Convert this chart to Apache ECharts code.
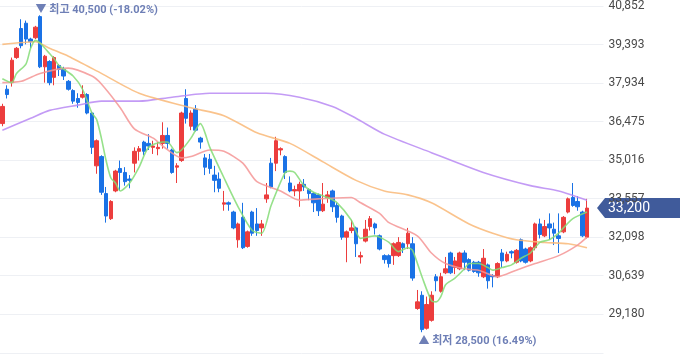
<!DOCTYPE html>
<html><head><meta charset="utf-8">
<script src="https://cdn.jsdelivr.net/npm/echarts@6/dist/echarts.min.js"></script>
<style>html,body{margin:0;padding:0;background:#fff}#c{width:680px;height:358px}</style>
</head><body><div id="c"></div>
<script>
const opens = [36400,37700,37950,38900,40000,40200,39600,39650,40450,38550,
38750,38150,38600,38450,38000,37650,37350,37400,37500,36800,
34800,35150,33750,32800,33850,34700,34550,34300,34900,35350,
35700,35650,35500,35450,35650,35950,35400,34750,35000,37350,
36300,36950,35850,35100,35050,34450,34300,33350,33400,33050,
32000,32850,31750,33050,32600,32450,33550,34900,34900,35400,
35150,34150,33850,33850,34100,33900,33750,33700,33100,33600,
33850,33300,32900,32100,32350,32450,31350,31950,32500,32600,
32150,31400,31400,31400,31400,31850,31850,31850,29400,29900,
28650,28950,30600,30050,30750,31500,30950,30900,31500,31250,
31150,31150,30600,31050,30650,30600,31500,31200,31550,31150,
32000,31650,31200,31700,32600,32150,32600,32400,32150,32300,
33050,33600,33450,33050,32100];
const closes = [37050,37500,38800,39250,39350,39600,39500,40050,38550,38950,
37950,38900,38450,38200,37700,37250,37200,37500,36800,35500,
35750,33800,32900,33450,34600,34550,34200,34250,35350,35450,
35350,35550,35550,35500,35950,35650,34550,34800,36800,36600,
36800,36150,35700,34750,34700,34250,33950,33400,33350,32450,
32600,31700,32300,32250,32350,32600,33700,34000,35750,35450,
34550,33850,33900,34100,34000,33750,33400,33100,33350,33700,
33250,32850,32100,32300,32450,31850,31400,32400,32800,32450,
31650,31250,31100,31850,31900,31700,32250,30550,29650,28600,
29550,29900,30450,30600,30900,30750,31200,31500,31150,30850,
30800,30750,31300,30450,30600,31100,31200,31450,31500,31600,
31200,31150,31700,32600,32200,32500,32450,32250,32050,32850,
33550,33300,33250,32150,33200];
const lows = [36300,37350,37800,38850,39250,39400,39250,39600,38500,37950,
37850,37850,38200,38050,37650,37150,37000,37350,36750,35250,
34500,33700,32650,32750,33800,33850,34050,33950,34550,35000,
35200,35400,35250,35200,35450,35450,34500,34150,34950,36400,
36150,36100,35450,34450,34500,33800,33800,33100,33100,32400,
31700,31650,31700,32150,32150,32150,33400,33950,34600,35200,
34300,33800,33650,33250,33850,33500,33050,32900,33050,33400,
33050,32650,32000,31150,32250,31350,31100,31900,32350,32200,
31600,31100,30950,31050,31350,31500,31650,30450,29350,28500,
28600,28900,30050,30000,30700,30700,30700,30850,30850,30800,
30750,30600,30550,30150,30200,30550,30950,31150,31300,31100,
31150,31100,31150,31600,32050,32100,32000,31800,31500,32250,
33000,33250,33100,32100,32050];
const highs = [37150,37850,38900,39300,40350,40300,39650,40100,40500,39000,
38800,38950,38650,38550,38050,37700,37550,37850,37550,36850,
35800,35200,34000,33500,34650,35000,34750,34450,35500,35550,
35750,36000,35750,35700,36450,36250,35450,34900,36850,37700,
36900,37100,35900,35250,35250,34800,34550,33850,33450,33100,
32650,33400,32350,33100,33200,32750,34150,35100,35900,35500,
35200,34400,34050,34200,34300,33950,33800,33750,34150,33850,
33900,33400,32950,32350,32750,32500,31550,32750,32900,32650,
32200,31450,31450,31900,32100,31900,32450,32100,30100,30050,
29850,30050,30700,30750,31350,31550,31350,31550,31600,31300,
31200,31200,31650,31100,30700,31150,31650,31550,31600,31650,
32050,31700,31750,32650,32800,32750,33000,32650,33000,32900,
33600,34150,33650,33100,33550];

// moving averages: [candle index, value]
const ma5 = [[0,38100],[2,37950],[3,38300],[5,38650],[6,39250],[7,39550],[8,39450],[10,39050],[11,38850],[12,38600],[15,38200],[17,37700],[19,36800],[20,36550],[21,35850],[22,35000],[23,34350],[24,34150],[25,33850],[27,34150],[29,34750],[31,35500],[34,35700],[35,35700],[37,35300],[38,35400],[40,35850],[42,36400],[44,35500],[47,34350],[50,33250],[53,32350],[55,32250],[57,33300],[60,34550],[61,34600],[62,34550],[64,34050],[66,33800],[69,33600],[71,33400],[74,32750],[76,32050],[79,32150],[80,32100],[82,31900],[84,31550],[86,31700],[87,31600],[89,30600],[91,29700],[92,29650],[93,29850],[94,30300],[96,30550],[98,30900],[99,31100],[101,31100],[103,30950],[104,30850],[106,30950],[108,31050],[110,31300],[112,31500],[114,31900],[116,32000],[118,32250],[119,32450],[121,32800],[124,33050]];
const ma20 = [[0,37950],[4,38000],[8,38300],[14,38500],[19,38200],[21,37900],[25,37000],[28,36200],[32,35850],[34,35550],[38,35100],[40,35150],[44,35400],[47,35350],[51,34900],[54,34200],[59,33850],[63,33500],[67,33550],[74,33600],[76,33400],[80,33000],[82,32650],[88,32150],[91,31500],[94,31100],[98,30900],[101,30850],[105,30600],[109,30850],[113,31100],[118,31400],[122,31800],[124,32100]];
const ma60 = [[0,39400],[7,39500],[10,39250],[14,38950],[21,38300],[29,37550],[40,37000],[47,36700],[54,36050],[61,35650],[68,34950],[75,34250],[81,33850],[86,33700],[91,33400],[99,32600],[104,32250],[109,32000],[115,31900],[120,31850],[124,31700]];
const ma120 = [[0,36150],[6,36600],[10,36900],[16,37100],[21,37250],[29,37250],[36,37400],[44,37550],[56,37550],[63,37400],[70,37050],[75,36600],[81,36000],[91,35300],[102,34550],[112,34050],[118,33850],[124,33500]];

const yTickStep = 1459;
const yMin = 27721, yMax = 40852;
const emptySlots = 3;

const categories = [];
for (let i = 0; i < opens.length + emptySlots; i++) categories.push(String(i));
const candleData = opens.map((o, i) => [o, closes[i], lows[i], highs[i]]);
const lastClose = closes[closes.length - 1];
const maxHigh = Math.max(...highs), minLow = Math.min(...lows);
const fmt = v => Math.round(v).toLocaleString('en-US');
const pctHigh = ((lastClose / maxHigh - 1) * 100).toFixed(2);
const pctLow = ((lastClose / minLow - 1) * 100).toFixed(2);

const UP = '#ec3d3d', DOWN = '#1a72e6';
const FONT = 'Roboto, "Noto Sans CJK KR", sans-serif';
const chart = echarts.init(document.getElementById('c'), null, {renderer: 'canvas'});
const lineS = (name, data, color) => ({
  name, type: 'line', data, symbol: 'none', smooth: 0.25, silent: true,
  lineStyle: {color, width: 1.6, opacity: 0.85}, z: 3
});
chart.setOption({
  animation: false,
  textStyle: {fontFamily: FONT},
  grid: {left: -1.4, right: 76.5, top: 5, bottom: 5.2},
  xAxis: {type: 'category', data: categories, boundaryGap: true, show: false},
  yAxis: {
    type: 'value', position: 'right', min: yMin, max: yMax, interval: yTickStep,
    axisLine: {show: false}, axisTick: {show: false},
    splitLine: {lineStyle: {color: '#eef0f4', width: 1}},
    axisLabel: {showMinLabel: false, color: '#4a4a4a', fontSize: 12, margin: 5,
      formatter: v => fmt(v)}
  },
  series: [
    {
      type: 'candlestick', data: candleData, barWidth: 4, z: 2,
      itemStyle: {color: UP, color0: DOWN, borderColor: UP, borderColor0: DOWN, borderWidth: 1},
      markPoint: {
        symbol: 'circle', symbolSize: 1, itemStyle: {color: 'rgba(0,0,0,0)'},
        data: [
          {type: 'max', valueDim: 'highest',
           label: {show: true, position: [-4, -10], color: '#6e7fb6', fontSize: 11, fontWeight: 'bold',
             formatter: () => '▼ 최고 ' + fmt(maxHigh) + ' (' + pctHigh + '%)'}},
          {type: 'min', valueDim: 'lowest',
           label: {show: true, position: [-3, 4], color: '#6e7fb6', fontSize: 11, fontWeight: 'bold',
             formatter: () => '▲ 최저 ' + fmt(minLow) + ' (' + pctLow + '%)'}}
        ]
      }
    },
    lineS('MA120', ma120, '#b98af3'),
    lineS('MA60', ma60, '#f9b878'),
    lineS('MA20', ma20, '#f59595'),
    lineS('MA5', ma5, '#84dc76')
  ]
});
const yc = chart.convertToPixel({yAxisIndex: 0}, lastClose);
const x0 = 597;
chart.setOption({
  graphic: [{
    type: 'group', z: 100,
    children: [
      {type: 'polygon', shape: {points: [[x0, yc], [x0 + 8, yc - 10], [682, yc - 10], [682, yc + 10], [x0 + 8, yc + 10]]},
       style: {fill: '#405b9b'}},
      {type: 'text', x: 608, y: yc, style: {text: fmt(lastClose), fill: '#ffffff', fontSize: 14,
        fontFamily: FONT, verticalAlign: 'middle', align: 'left'}}
    ]
  }]
});
</script></body></html>
